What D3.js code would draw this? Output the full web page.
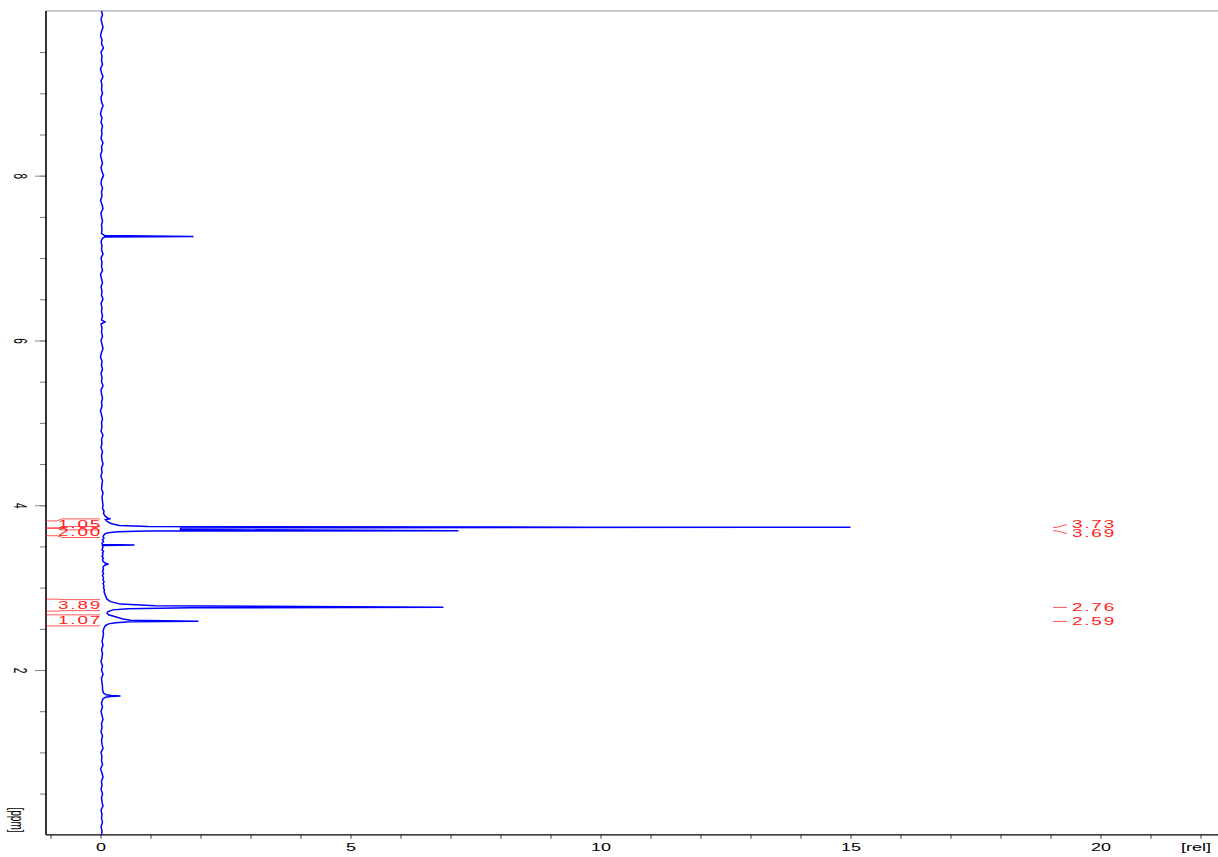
<!DOCTYPE html>
<html>
<head>
<meta charset="utf-8">
<script src="https://cdn.jsdelivr.net/npm/d3@7"></script>
<style>
  body { margin: 0; background: #fff; }
  svg { display: block; }
  text { font-family: "Liberation Sans", Arial, sans-serif; }
</style>
</head>
<body>
<svg id="chart" width="1218" height="857"></svg>
<script>
// ---- 1H spectrum, plotted with chemical shift on the vertical axis ----

// labelled ticks
const ppmTickLabels = [2, 4, 6, 8];
const relTickLabels = [0, 5, 10, 15, 20];

// spectrum trace: [chemical shift (ppm), relative intensity]
const trace = [
  [10.00, 0.02], [9.95, 0.04], [9.90, 0.01], [9.85, 0.03], [9.80, 0.05],
  [9.75, 0.02], [9.70, 0.00], [9.65, 0.03], [9.60, 0.02], [9.55, 0.06],
  [9.50, 0.01], [9.45, 0.03], [9.40, 0.02], [9.35, 0.04], [9.30, 0.00],
  [9.25, 0.02], [9.20, 0.05], [9.15, 0.01], [9.10, 0.03], [9.05, 0.02],
  [9.00, 0.04], [8.95, 0.01], [8.90, 0.02], [8.85, 0.05], [8.80, 0.02],
  [8.75, 0.00], [8.70, 0.03], [8.65, 0.01], [8.60, 0.04], [8.55, 0.02],
  [8.50, 0.03], [8.45, 0.01], [8.40, 0.05], [8.35, 0.02], [8.30, 0.03],
  [8.25, 0.00], [8.20, 0.02], [8.15, 0.04], [8.10, 0.01], [8.05, 0.03],
  [8.00, 0.06], [7.95, 0.02], [7.90, 0.01], [7.85, 0.04], [7.80, 0.02],
  [7.75, 0.03], [7.70, 0.00], [7.65, 0.03], [7.60, 0.05], [7.55, 0.01],
  [7.50, 0.02], [7.45, 0.04], [7.40, 0.02], [7.35, 0.03], [7.30, 0.02],
  [7.29, 0.04], [7.275, 0.08], [7.262, 1.86], [7.255, 0.08], [7.24, 0.04],
  [7.20, 0.01], [7.15, 0.03], [7.10, 0.02], [7.05, 0.05], [7.00, 0.01],
  [6.95, 0.03], [6.90, 0.02], [6.85, 0.04], [6.80, 0.00], [6.75, 0.02],
  [6.70, 0.04], [6.65, 0.01], [6.60, 0.03], [6.55, 0.02], [6.50, 0.05],
  [6.45, 0.01], [6.40, 0.03], [6.35, 0.02], [6.30, 0.04], [6.25, 0.02],
  [6.225, 0.09], [6.20, 0.01], [6.15, 0.03], [6.10, 0.02], [6.05, 0.04],
  [6.00, 0.01], [5.95, 0.03], [5.90, 0.05], [5.85, 0.02], [5.80, 0.00],
  [5.75, 0.03], [5.70, 0.02], [5.65, 0.04], [5.60, 0.01], [5.55, 0.03],
  [5.50, 0.02], [5.45, 0.05], [5.40, 0.01], [5.35, 0.02], [5.30, 0.04],
  [5.25, 0.02], [5.20, 0.03], [5.15, 0.00], [5.10, 0.02], [5.05, 0.04],
  [5.00, 0.02], [4.95, 0.03], [4.90, 0.01], [4.85, 0.05], [4.80, 0.02],
  [4.75, 0.03], [4.70, 0.01], [4.65, 0.04], [4.60, 0.02], [4.55, 0.03],
  [4.50, 0.05], [4.45, 0.02], [4.40, 0.03], [4.35, 0.01], [4.30, 0.04],
  [4.25, 0.03], [4.20, 0.02], [4.15, 0.05], [4.10, 0.03], [4.05, 0.04],
  [4.00, 0.05], [3.96, 0.04], [3.93, 0.07], [3.90, 0.06], [3.87, 0.09],
  [3.845, 0.14], [3.835, 0.20], [3.825, 0.10], [3.80, 0.14],
  [3.775, 0.22], [3.755, 0.38], [3.742, 0.95], [3.734, 9.6], [3.733, 5.1],
  [3.732, 15.0], [3.730, 5.2], [3.729, 9.5], [3.727, 5.3], [3.725, 1.6],
  [3.705, 1.6], [3.690, 7.16], [3.686, 0.9], [3.678, 0.35], [3.665, 0.15],
  [3.650, 0.08], [3.62, 0.05], [3.60, 0.07], [3.58, 0.04], [3.56, 0.06],
  [3.54, 0.03], [3.522, 0.04], [3.516, 0.68], [3.511, 0.04], [3.49, 0.05],
  [3.46, 0.03], [3.44, 0.06], [3.42, 0.04], [3.40, 0.05], [3.38, 0.03],
  [3.36, 0.06], [3.34, 0.04], [3.32, 0.05], [3.295, 0.10], [3.285, 0.16],
  [3.275, 0.09], [3.25, 0.05], [3.22, 0.06], [3.20, 0.04], [3.17, 0.06],
  [3.15, 0.04], [3.12, 0.06], [3.10, 0.05], [3.07, 0.07], [3.05, 0.05],
  [3.02, 0.07], [3.00, 0.06], [2.97, 0.08], [2.95, 0.07], [2.92, 0.09],
  [2.90, 0.10], [2.86, 0.13], [2.83, 0.20],
  [2.80, 0.40], [2.78, 1.10], [2.762, 6.86], [2.755, 1.8], [2.745, 0.55],
  [2.73, 0.25], [2.71, 0.15], [2.69, 0.13], [2.67, 0.16], [2.65, 0.28],
  [2.62, 0.45], [2.605, 0.6], [2.592, 1.96], [2.586, 0.6], [2.575, 0.3],
  [2.56, 0.16], [2.54, 0.10], [2.51, 0.07], [2.47, 0.05], [2.44, 0.06],
  [2.40, 0.05], [2.35, 0.03], [2.30, 0.05], [2.25, 0.02], [2.20, 0.04],
  [2.15, 0.03], [2.10, 0.01], [2.05, 0.04], [2.00, 0.02], [1.95, 0.05],
  [1.90, 0.02], [1.85, 0.03], [1.80, 0.04], [1.76, 0.04], [1.72, 0.06],
  [1.70, 0.11], [1.69, 0.22], [1.685, 0.40], [1.68, 0.20], [1.67, 0.10],
  [1.65, 0.05], [1.60, 0.02], [1.55, 0.04], [1.50, 0.01], [1.45, 0.03],
  [1.40, 0.05], [1.35, 0.02], [1.30, 0.03], [1.25, 0.01], [1.20, 0.04],
  [1.15, 0.02], [1.10, 0.03], [1.05, 0.05], [1.00, 0.01], [0.95, 0.03],
  [0.90, 0.02], [0.85, 0.04], [0.80, 0.00], [0.75, 0.03], [0.70, 0.05],
  [0.65, 0.02], [0.60, 0.03], [0.55, 0.01], [0.50, 0.04], [0.45, 0.02],
  [0.40, 0.03], [0.35, 0.05], [0.30, 0.01], [0.25, 0.03], [0.20, 0.02],
  [0.15, 0.04], [0.10, 0.01], [0.05, 0.03], [0.00, 0.02]
];

// integrals: value and region (ppm, high to low)
const integralValues = ["1.05", "2.00", "3.89", "1.07"];
const integralFrom = [3.81, 3.72, 2.86, 2.67];
const integralTo = [3.725, 3.63, 2.715, 2.535];

// picked peaks
const peakLabels = ["3.73", "3.69", "2.76", "2.59"];
const peakPpm = [3.73, 3.69, 2.76, 2.59];

// ---- layout ----
const svg = d3.select("#chart");
const plotLeft = 46, plotRight = 1218, plotTop = 10.9, plotBottom = 834.8;

const y = d3.scaleLinear().domain([10, 0]).range([plotTop, plotBottom]);
const x = d3.scaleLinear().domain([-1.09, 22.35]).range([plotLeft, plotRight]);

const STRETCH = 1.8; // glyphs are drawn wide

// frame line along the top
svg.append("line")
  .attr("x1", plotLeft).attr("x2", plotRight).attr("y1", plotTop).attr("y2", plotTop)
  .attr("stroke", "#9a9a9a").attr("stroke-width", 1);

// ---- vertical (ppm) axis ----
const yMinor = svg.append("g").attr("transform", `translate(${plotLeft},0)`)
  .call(d3.axisLeft(y).tickValues(d3.range(0.5, 10, 0.5)).tickSize(6).tickSizeOuter(0).tickFormat(""));
yMinor.select(".domain").remove();
yMinor.selectAll("line").attr("stroke", "#777");

const yMajor = svg.append("g").attr("transform", `translate(${plotLeft},0)`)
  .call(d3.axisLeft(y).tickValues(ppmTickLabels).tickSize(11).tickSizeOuter(0).tickFormat(d3.format("d")));
yMajor.select(".domain").remove();
yMajor.selectAll("line").attr("stroke", "#888");
yMajor.selectAll("text")
  .attr("x", null).attr("dy", "0.35em")
  .attr("text-anchor", "middle")
  .attr("font-size", 10).attr("fill", "#000")
  .attr("transform", `translate(-26,0) scale(${STRETCH},1) rotate(90)`);

// "[ppm]" unit, written along the axis
svg.append("text")
  .attr("transform", `translate(17,820) scale(${STRETCH},1) rotate(90)`)
  .attr("text-anchor", "middle").attr("dy", "0.35em")
  .attr("font-size", 10).attr("fill", "#000")
  .text("[ppm]");

// ---- horizontal (intensity) axis ----
const xAxis = svg.append("g").attr("transform", `translate(0,${plotBottom})`)
  .call(d3.axisBottom(x).tickValues(d3.range(-1, 23)).tickSize(4).tickSizeOuter(0)
    .tickFormat(d => relTickLabels.includes(d) ? d : ""));
xAxis.select(".domain").remove();
xAxis.selectAll("line").attr("stroke", "#444");
xAxis.selectAll("text")
  .attr("y", 9).attr("font-size", 10).attr("fill", "#000")
  .attr("transform", `scale(${STRETCH},1)`);

svg.append("text")
  .attr("transform", `translate(1196,${plotBottom + 16.5}) scale(${STRETCH},1)`)
  .attr("text-anchor", "middle").attr("font-size", 10).attr("fill", "#000")
  .text("[rel]");

// axis lines
svg.append("line").attr("x1", plotLeft).attr("x2", plotLeft).attr("y1", plotTop).attr("y2", plotBottom)
  .attr("stroke", "#000").attr("stroke-width", 1.6);
svg.append("line").attr("x1", plotLeft).attr("x2", plotRight).attr("y1", plotBottom).attr("y2", plotBottom)
  .attr("stroke", "#000").attr("stroke-width", 1.2);

// ---- spectrum ----
const line = d3.line().x(d => x(d[1])).y(d => y(d[0]));
svg.append("path")
  .datum(trace)
  .attr("d", line)
  .attr("fill", "none")
  .attr("stroke", "#0000ff")
  .attr("stroke-width", 1.5)
  .attr("stroke-linejoin", "miter");

// ---- integrals (left margin) ----
const red = "#ff2020";
const intG = svg.append("g");
const bendX = 57, boxX = 62, endX = 100, half = 5.5;
integralValues.forEach((v, i) => {
  const y1 = y(integralFrom[i]), y2 = y(integralTo[i]);
  const yc = (y1 + y2) / 2;
  const pts = [
    [[plotLeft, y1], [bendX, y1], [boxX, yc - half], [endX, yc - half]],
    [[plotLeft, y2], [bendX, y2], [boxX, yc + half], [endX, yc + half]]
  ];
  pts.forEach(p => intG.append("path")
    .attr("d", d3.line()(p))
    .attr("fill", "none").attr("stroke", red).attr("stroke-width", 1).attr("opacity", 0.75));
  intG.append("text")
    .attr("transform", `translate(${(boxX + endX) / 2 - 1},${yc + 3.8}) scale(${STRETCH},1)`)
    .attr("text-anchor", "middle").attr("font-size", 10.5).attr("letter-spacing", 1)
    .attr("fill", red).text(v);
});

// ---- peak labels (right side) ----
const labelY = peakPpm.map(p => y(p));
for (let i = 1; i < labelY.length; i++) {
  if (labelY[i] - labelY[i - 1] < 9) {
    const c = (labelY[i] + labelY[i - 1]) / 2;
    labelY[i - 1] = c - 4.5;
    labelY[i] = c + 4.5;
  }
}
const pkG = svg.append("g");
peakLabels.forEach((t, i) => {
  const yp = y(peakPpm[i]);
  pkG.append("path")
    .attr("d", d3.line()([[1053, yp], [1056, yp], [1067, labelY[i]]]))
    .attr("fill", "none").attr("stroke", red).attr("stroke-width", 1).attr("opacity", 0.75);
  pkG.append("text")
    .attr("transform", `translate(1072,${labelY[i] + 3.8}) scale(${STRETCH},1)`)
    .attr("font-size", 10.5).attr("letter-spacing", 1)
    .attr("fill", red).text(t);
});
</script>
</body>
</html>
